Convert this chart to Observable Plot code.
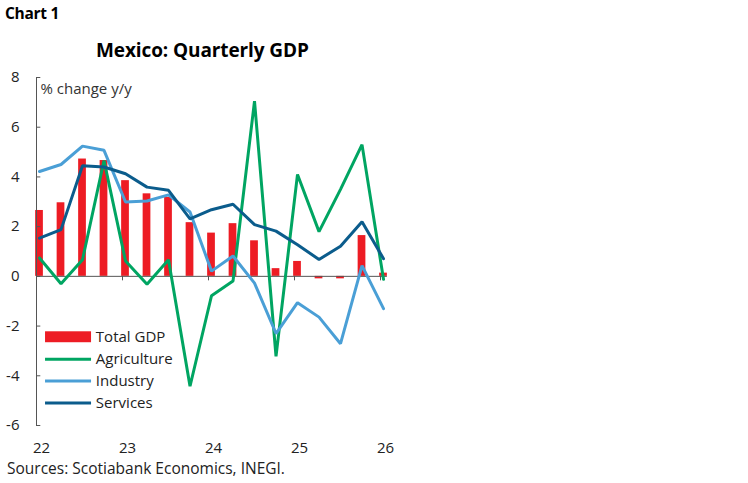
<!DOCTYPE html>
<html>
<head>
<meta charset="utf-8">
<script src="https://cdn.jsdelivr.net/npm/d3@7"></script>
<script src="https://cdn.jsdelivr.net/npm/@observablehq/plot@0.6"></script>
<style>
  body { margin: 0; background: #fff; font-family: "Open Sans", "Noto Sans", sans-serif; }
  #wrap { position: relative; width: 748px; height: 483px; overflow: hidden; }
  .abs { position: absolute; white-space: nowrap; color: #000; line-height: 1; }
  #chartno { left: 5px; top: 6px; font-size: 15.5px; font-weight: 700; letter-spacing: -0.3px; }
  #title { left: 96px; top: 41px; font-size: 19px; font-weight: 700; letter-spacing: -0.1px; }
  #source { left: 7px; top: 461px; font-size: 15.5px; color: #222; }
  #plot { position: absolute; left: 0; top: 0; }
</style>
</head>
<body>
<div id="wrap">
  <div id="plot"></div>
  <div class="abs" id="chartno">Chart 1</div>
  <div class="abs" id="title">Mexico: Quarterly GDP</div>
  <div class="abs" id="source">Sources: Scotiabank Economics, INEGI.</div>
</div>
<script>
// Quarters 2022Q1 .. 2026Q1
const quarters = ["22Q1","22Q2","22Q3","22Q4","23Q1","23Q2","23Q3","23Q4","24Q1","24Q2","24Q3","24Q4","25Q1","25Q2","25Q3","25Q4","26Q1"];
const totalGDP    = [2.65, 2.96, 4.72, 4.66, 3.85, 3.32, 3.18, 2.16, 1.74, 2.12, 1.43, 0.31, 0.60, -0.10, -0.10, 1.64, 0.13];
const agriculture = [0.74, -0.30, 0.67, 4.66, 0.62, -0.32, 0.67, -4.42, -0.78, -0.19, 7.05, -3.22, 4.10, 1.80, 3.50, 5.30, -0.12];
const industry    = [4.22, 4.50, 5.24, 5.07, 2.99, 3.03, 3.28, 2.59, 0.21, 0.82, -0.27, -2.30, -1.06, -1.64, -2.71, 0.43, -1.30];
const services    = [1.54, 1.88, 4.45, 4.40, 4.13, 3.59, 3.46, 2.31, 2.68, 2.90, 2.08, 1.82, 1.27, 0.68, 1.21, 2.20, 0.71];
const yearTicks = [22, 23, 24, 25, 26];
const yTicks = [-6, -4, -2, 0, 2, 4, 6, 8];

const seriesNames = ["Total GDP", "Agriculture", "Industry", "Services"];
const colors = ["#ED1C24", "#00A562", "#4A9FD6", "#0B5C8C"];

// position of each quarter on a year-based axis
const pos = quarters.map((q, i) => 22 + i / 4 + 0.035);

const bars = quarters.map((q, i) => ({x1: pos[i] - 0.045, x2: pos[i] + 0.045, y: totalGDP[i]}));
const lineData = [];
[["Agriculture", agriculture], ["Industry", industry], ["Services", services]].forEach(([name, vals]) => {
  vals.forEach((v, i) => lineData.push({series: name, x: pos[i], y: v}));
});

// legend rows (in data coordinates inside the frame)
const legendRows = seriesNames.map((name, i) => ({name, color: colors[i], y: -2.45 - i * 0.88}));

const axisColor = "#555";
const chart = Plot.plot({
  width: 748,
  height: 483,
  marginLeft: 36,
  marginRight: 368,
  marginTop: 77,
  marginBottom: 58,
  style: { fontFamily: "'Open Sans', 'Noto Sans', sans-serif", fontSize: "15px", color: "#222", background: "transparent" },
  x: { type: "linear", domain: [22, 26], axis: null },
  y: { type: "linear", domain: [-6, 8], axis: null },
  color: { domain: ["Agriculture", "Industry", "Services"], range: colors.slice(1) },
  marks: [
    Plot.rectY(bars, { x1: "x1", x2: "x2", y: "y", fill: colors[0] }),
    Plot.ruleY([0], { x1: () => 22, x2: () => 26.08, stroke: axisColor, strokeWidth: 1 }),
    Plot.ruleX([22], { y1: () => -6, y2: () => 8, stroke: axisColor, strokeWidth: 1 }),
    // y ticks pointing inward
    Plot.ruleY(yTicks, { y: d => d, x1: () => 22, x2: () => 22.05, stroke: axisColor, strokeWidth: 1 }),
    Plot.text(yTicks, { y: d => d, x: () => 22, text: d => String(d), dx: -17, textAnchor: "end", fontSize: 15, fill: "#222" }),
    // x ticks below the zero line
    Plot.ruleX(yearTicks.slice(1), { x: d => d, y1: () => 0, y2: () => -0.18, stroke: axisColor, strokeWidth: 1 }),
    Plot.text(yearTicks, { x: d => d, y: () => -6, text: d => String(d), dy: 23, dx: 5, fontSize: 15, fill: "#222" }),
    Plot.line(lineData, { x: "x", y: "y", z: "series", stroke: "series", strokeWidth: 3, strokeLinejoin: "miter" }),
    Plot.text(["% change y/y"], { x: () => 22, y: () => 8, text: d => d, dx: 4, dy: 12, textAnchor: "start", fontSize: 15, fill: "#333" }),
    // legend
    Plot.rect(legendRows.slice(0, 1), { x1: () => 22.105, x2: () => 22.64, y1: d => d.y - 0.22, y2: d => d.y + 0.22, fill: d => d.color }),
    Plot.ruleY(legendRows.slice(1), { y: "y", x1: () => 22.105, x2: () => 22.64, stroke: d => d.color, strokeWidth: 3 }),
    Plot.text(legendRows, { x: () => 22.69, y: "y", text: "name", textAnchor: "start", fontSize: 15, fill: "#222" })
  ]
});
document.getElementById("plot").appendChild(chart);
</script>
</body>
</html>
